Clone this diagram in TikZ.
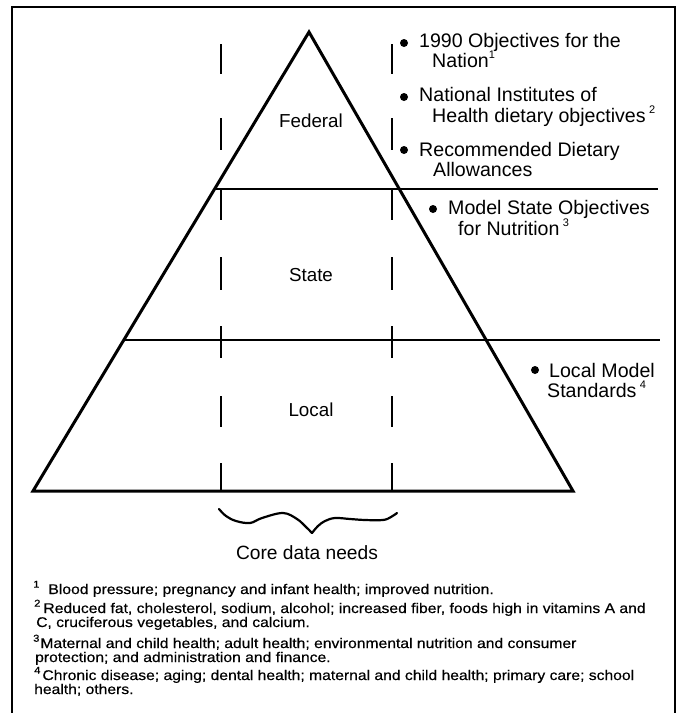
\documentclass[tikz,border=0pt]{standalone}
\usepackage{fontspec}
\setmainfont{Liberation Sans}
\newfontfamily\fnfont[FakeStretch=1.12,FakeBold=0.4]{Liberation Sans}
\newcommand{\supnum}[1]{\raisebox{0.45em}{\fontsize{11}{11}\selectfont #1}}
\newcommand{\fnsup}[1]{\raisebox{0.45em}{\fontsize{10}{10}\selectfont #1}}
% two lines: skip, first line, indent of second line, second line
\newcommand{\twoln}[4]{\vtop{\baselineskip=#1\lineskiplimit=-30pt\lineskip=0pt\hbox{#2}\hbox{\hspace{#3}#4}}}
\begin{document}
\begin{tikzpicture}[x=1pt,y=-1pt,
  tri/.style={line width=3pt, line join=miter},
  div/.style={line width=2pt},
  dsh/.style={line width=1.6pt},
  lvl/.style={anchor=base, inner sep=0, font=\fontsize{18.8}{20}\selectfont},
  item/.style={anchor=base west, inner sep=0, font=\fontsize{19.6}{20}\selectfont},
  fn/.style={anchor=base west, inner sep=0, text height=10pt, text depth=3pt, font=\fnfont\fontsize{14}{14}\selectfont},
  dot/.style={circle, fill, inner sep=0, minimum size=8pt}]
\useasboundingbox (0,0) rectangle (679,713);
% frame (open at the bottom)
\draw[line width=2pt] (12,713) -- (12,7) -- (675,7) -- (675,713);
% pyramid
\coordinate (apex) at (309,32);
\coordinate (bl) at (33,491);
\coordinate (br) at (573,491);
\draw[tri] (bl) -- (apex) -- (br) -- cycle;
\coordinate (d1l) at (214.6,189);
\coordinate (d1r) at (658,189);
\coordinate (d2l) at (123.8,340);
\coordinate (d2r) at (660,340);
\draw[div] (d1l) -- (d1r);
\draw[div] (d2l) -- (d2r);
% dashed core lines
\foreach \a/\b in {44/74,118/150,189/220,257/290,326/358,396/427,463/491}{
  \draw[dsh] (221,\a) -- (221,\b);
  \draw[dsh] (392,\a) -- (392,\b);
}
% level labels
\node[lvl] (fed) at (311,127) {Federal};
\node[lvl] (sta) at (311,281) {State};
\node[lvl] (loc) at (311,416) {Local};
% brace
\coordinate (tip) at (312,533);
\draw[line width=2.2pt, line cap=round, line join=round]
  plot[smooth, tension=0.6] coordinates {(219,509) (226,516) (236,521) (250,523) (262,518) (283,513) (297,519) (306,527) (tip)};
\draw[line width=2.2pt, line cap=round, line join=round]
  plot[smooth, tension=0.6] coordinates {(tip) (318,526) (325,521) (335,518) (350,519) (365,520) (383,520) (391,517) (397,513)};
\node[anchor=base, inner sep=0, font=\fontsize{19.2}{20}\selectfont] (core) at (307,559) {Core data needs};
% bulleted items
\node[dot] (b1) at (404,43) {};
\node[item] (t1) at (419,47) {\twoln{20.5pt}{1990 Objectives for the}{13pt}{Nation\supnum{1}}};
\node[dot] (b2) at (404,97) {};
\node[item] (t2) at (419,101.5) {\twoln{20.5pt}{National Institutes of}{13pt}{Health dietary objectives\,\supnum{2}}};
\node[dot] (b3) at (404,150) {};
\node[item] (t3) at (419,156) {\twoln{20.5pt}{Recommended Dietary}{14pt}{Allowances}};
\node[dot] (b4) at (433,209) {};
\node[item] (t4) at (448,214.5) {\twoln{20.5pt}{Model State Objectives}{10pt}{for Nutrition\,\supnum{3}}};
\node[dot] (b5) at (535,370) {};
\node[item] (t5) at (549,377) {\twoln{20.5pt}{Local Model}{-2pt}{Standards\,\supnum{4}}};
% footnotes
\node[fn] (f1) at (33,594) {\fnsup{1}\hspace{9pt}Blood pressure; pregnancy and infant health; improved nutrition.};
\node[fn] (f2a) at (34,613) {\fnsup{2}\hspace{3pt}Reduced fat, cholesterol, sodium, alcohol; increased fiber, foods high in vitamins A and};
\node[fn] (f2b) at (36,627) {C, cruciferous vegetables, and calcium.};
\node[fn] (f3a) at (33,648) {\fnsup{3}\hspace{1pt}Maternal and child health; adult health; environmental nutrition and consumer};
\node[fn] (f3b) at (35,662) {protection; and administration and finance.};
\node[fn] (f4a) at (34,680) {\fnsup{4}\hspace{2pt}Chronic disease; aging; dental health; maternal and child health; primary care; school};
\node[fn] (f4b) at (34,694) {health; others.};
\end{tikzpicture}
\end{document}
